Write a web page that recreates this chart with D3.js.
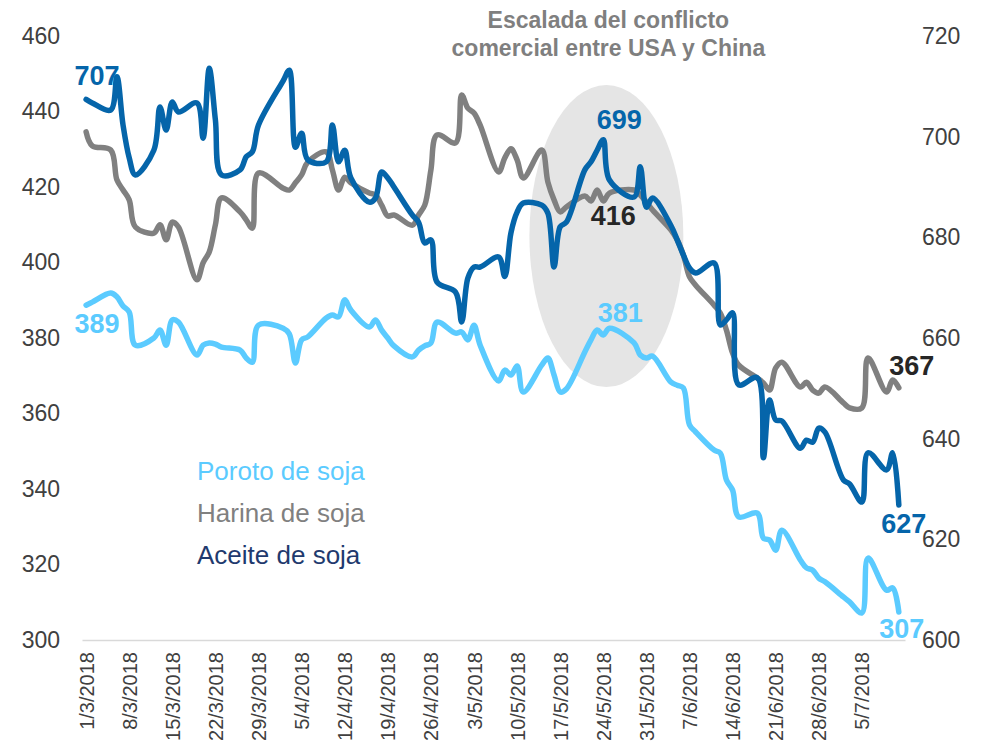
<!DOCTYPE html>
<html><head><meta charset="utf-8">
<script src="https://cdn.jsdelivr.net/npm/d3@7"></script>
<style>
html,body{margin:0;padding:0;background:#fff;}
svg{display:block;font-family:"Liberation Sans",Arial,sans-serif;}
</style></head>
<body>
<svg id="chart" width="982" height="745"></svg>
<script>
// ---- data ----
const dates = [
"2018-03-01","2018-03-02","2018-03-05","2018-03-06","2018-03-07","2018-03-08","2018-03-09","2018-03-12","2018-03-13","2018-03-14","2018-03-15","2018-03-16","2018-03-19","2018-03-20","2018-03-21","2018-03-22","2018-03-23","2018-03-26","2018-03-27","2018-03-28","2018-03-29",
"2018-04-02","2018-04-03","2018-04-04","2018-04-05","2018-04-06","2018-04-09","2018-04-10","2018-04-11","2018-04-12","2018-04-13","2018-04-16","2018-04-17","2018-04-18","2018-04-19","2018-04-20","2018-04-23","2018-04-24","2018-04-25","2018-04-26","2018-04-27","2018-04-30",
"2018-05-01","2018-05-02","2018-05-03","2018-05-04","2018-05-07","2018-05-08","2018-05-09","2018-05-10","2018-05-11","2018-05-14","2018-05-15","2018-05-16","2018-05-17","2018-05-18","2018-05-21","2018-05-22","2018-05-23","2018-05-24","2018-05-25","2018-05-29","2018-05-30","2018-05-31",
"2018-06-01","2018-06-04","2018-06-05","2018-06-06","2018-06-07","2018-06-08","2018-06-11","2018-06-12","2018-06-13","2018-06-14","2018-06-15","2018-06-18","2018-06-19","2018-06-20","2018-06-21","2018-06-22","2018-06-25","2018-06-26","2018-06-27","2018-06-28","2018-06-29",
"2018-07-02","2018-07-03","2018-07-05","2018-07-06","2018-07-09","2018-07-10","2018-07-11"];

// Poroto de soja (left axis)
const poroto = [
388.7,389.5,391.9,390.9,388.5,386.9,378.1,380.0,382.1,378.1,384.8,384.2,375.5,378.1,378.7,378.4,377.6,376.8,374.7,373.6,383.4,
382.6,381.1,373.4,379.5,380.3,385.3,386.1,385.6,390.1,387.4,382.9,384.8,382.1,380.0,377.9,375.0,376.8,377.9,378.7,384.2,381.3,
381.6,379.5,383.4,378.1,368.6,371.5,370.2,372.6,365.7,372.8,374.7,370.2,365.7,366.5,376.3,379.5,382.1,380.8,382.6,378.7,375.5,374.7,
375.2,368.3,367.5,366.8,357.0,355.1,350.3,349.5,342.4,339.7,332.6,333.6,327.0,326.5,323.8,329.1,321.2,319.1,318.5,316.4,315.4,
311.4,310.1,307.2,321.7,313.2,313.8,307.4];

// Harina de soja (left axis)
const harina = [
434.6,430.9,429.8,421.9,419.2,416.6,409.4,407.8,410.0,406.0,410.7,409.4,395.4,399.9,402.8,410.0,417.1,413.4,411.3,409.1,423.7,
419.7,419.2,421.1,423.2,426.6,429.3,424.5,419.2,422.6,421.1,418.4,417.9,415.2,412.3,412.6,409.9,412.6,415.2,424.5,433.8,431.7,
444.4,440.9,439.6,436.4,424.0,427.7,430.1,427.2,422.4,429.8,421.3,416.6,413.4,414.7,417.6,416.3,419.2,416.3,418.4,419.2,417.9,416.0,
413.9,408.6,406.0,402.0,396.2,394.0,388.7,386.6,382.1,376.0,372.8,369.4,368.1,366.2,372.1,373.6,367.0,368.3,366.2,365.4,367.0,
362.8,361.5,361.5,374.7,365.7,368.9,366.8];

// Aceite de soja (right axis)
const aceite = [
707.4,706.7,705.3,711.9,702.3,695.8,692.4,697.3,705.9,701.3,706.9,704.9,706.7,699.7,713.6,703.3,692.4,693.4,696.0,697.0,702.3,
711.1,713.2,697.9,700.7,695.4,695.0,702.3,695.0,697.3,691.8,687.0,687.8,693.0,691.8,690.0,684.4,683.0,678.9,679.5,671.1,669.1,
663.2,671.9,674.1,674.1,676.1,672.2,680.9,685.0,686.8,686.4,684.8,674.1,682.1,683.0,693.4,695.0,697.3,699.4,691.4,688.0,694.0,686.0,
687.8,682.3,679.5,676.5,673.9,672.9,674.9,662.6,663.6,665.0,650.7,652.1,636.2,647.7,643.7,643.5,638.1,639.7,639.3,642.1,641.3,
631.8,631.0,627.4,637.2,633.8,637.2,626.8];

const tickDates = ["2018-03-01","2018-03-08","2018-03-15","2018-03-22","2018-03-29","2018-04-05","2018-04-12","2018-04-19","2018-04-26","2018-05-03","2018-05-10","2018-05-17","2018-05-24","2018-05-31","2018-06-07","2018-06-14","2018-06-21","2018-06-28","2018-07-05"];
const leftTicks = [300,320,340,360,380,400,420,440,460];
const rightTicks = [600,620,640,660,680,700,720];
const seriesNames = ["Poroto de soja","Harina de soja","Aceite de soja"];
const titleLines = ["Escalada del conflicto","comercial entre USA y China"];
// highlighted period (ellipse): dates and left-axis value span
const highlightDates = ["2018-05-12","2018-06-06"];
const highlightValues = [367, 447];

// ---- drawing ----
const parse = d3.utcParse("%Y-%m-%d");
const D = dates.map(parse);
const svg = d3.select("#chart");
const FONT = '"Liberation Sans",Arial,sans-serif';
const C = {poroto:"#5bcbff", harina:"#808080", aceite:"#0565aa", text:"#404040"};

const x = d3.scaleUtc()
  .domain([new Date(Date.UTC(2018,1,28,8)), new Date(Date.UTC(2018,6,12))])
  .range([82, 905]);
const yL = d3.scaleLinear().domain([300,460]).range([640,36]);
const yR = d3.scaleLinear().domain([600,720]).range([640,36]);

// highlight ellipse
const hx0 = x(parse(highlightDates[0])), hx1 = x(parse(highlightDates[1]));
const hy0 = yL(highlightValues[1]), hy1 = yL(highlightValues[0]);
svg.append("ellipse")
  .attr("cx",(hx0+hx1)/2).attr("cy",(hy0+hy1)/2)
  .attr("rx",(hx1-hx0)/2).attr("ry",(hy1-hy0)/2)
  .attr("fill","#e5e5e5");

// x axis
const xAxis = d3.axisBottom(x)
  .tickValues(tickDates.map(parse))
  .tickSize(0)
  .tickFormat(d3.utcFormat("%-d/%-m/%Y"));
const gx = svg.append("g").attr("transform","translate(0,640)").call(xAxis);
gx.select(".domain").attr("stroke","#d9d9d9").attr("stroke-width",1.5);
gx.selectAll("text")
  .attr("font-family",FONT).attr("font-size",20).attr("fill",C.text)
  .attr("text-anchor","end")
  .attr("transform","translate(0,12) rotate(-90)")
  .attr("x",0).attr("y",0).attr("dy","0.35em");

// left axis
const gl = svg.append("g").attr("transform","translate(60,0)")
  .call(d3.axisLeft(yL).tickValues(leftTicks).tickSize(0).tickPadding(0));
gl.select(".domain").remove();
gl.selectAll("text").attr("font-family",FONT).attr("font-size",23).attr("fill",C.text);

// right axis
const gr = svg.append("g").attr("transform","translate(922,0)")
  .call(d3.axisRight(yR).tickValues(rightTicks).tickSize(0).tickPadding(0));
gr.select(".domain").remove();
gr.selectAll("text").attr("font-family",FONT).attr("font-size",23).attr("fill",C.text);

// lines
function drawLine(vals, y, color){
  const line = d3.line().x((d,i)=>x(D[i])).y(d=>y(d)).curve(d3.curveCatmullRom.alpha(0.5));
  svg.append("path").datum(vals).attr("d",line)
    .attr("fill","none").attr("stroke",color).attr("stroke-width",5.5)
    .attr("stroke-linejoin","round").attr("stroke-linecap","round");
}
drawLine(poroto, yL, C.poroto);
drawLine(harina, yL, C.harina);
drawLine(aceite, yR, C.aceite);

// data labels
const iPeak = dates.indexOf("2018-05-24");
const last = dates.length-1;
const labels = [
  {i:0, v:aceite[0], y:yR, dx:11, dy:-14, c:C.aceite},
  {i:0, v:poroto[0], y:yL, dx:11, dy:28, c:C.poroto},
  {i:iPeak, v:aceite[iPeak], y:yR, dx:16, dy:-11, c:C.aceite},
  {i:iPeak, v:harina[iPeak], y:yL, dx:10, dy:24, c:"#262626"},
  {i:iPeak, v:poroto[iPeak], y:yL, dx:17, dy:-13, c:C.poroto},
  {i:last, v:harina[last], y:yL, dx:13, dy:-13, c:"#262626"},
  {i:last, v:aceite[last], y:yR, dx:5, dy:28, c:C.aceite},
  {i:last, v:poroto[last], y:yL, dx:3, dy:26, c:C.poroto}
];
svg.selectAll("text.dl").data(labels).enter().append("text").attr("class","dl")
  .attr("x",d=>x(D[d.i])+d.dx).attr("y",d=>d.y(d.v)+d.dy)
  .attr("text-anchor","middle").attr("font-family",FONT)
  .attr("font-size",27).attr("font-weight","bold").attr("fill",d=>d.c)
  .text(d=>Math.round(d.v));

// title
svg.selectAll("text.title").data(titleLines).enter().append("text").attr("class","title")
  .attr("x",(hx0+hx1)/2+2).attr("y",(d,i)=>28+i*28)
  .attr("text-anchor","middle").attr("font-family",FONT)
  .attr("font-size",23).attr("font-weight","bold").attr("fill","#7f7f7f")
  .text(d=>d);

// legend
const legColors = [C.poroto, C.harina, "#1f3a6e"];
svg.selectAll("text.leg").data(seriesNames).enter().append("text").attr("class","leg")
  .attr("x",197).attr("y",(d,i)=>480+i*42)
  .attr("font-family",FONT).attr("font-size",26)
  .attr("fill",(d,i)=>legColors[i]).text(d=>d);
</script>
</body></html>
